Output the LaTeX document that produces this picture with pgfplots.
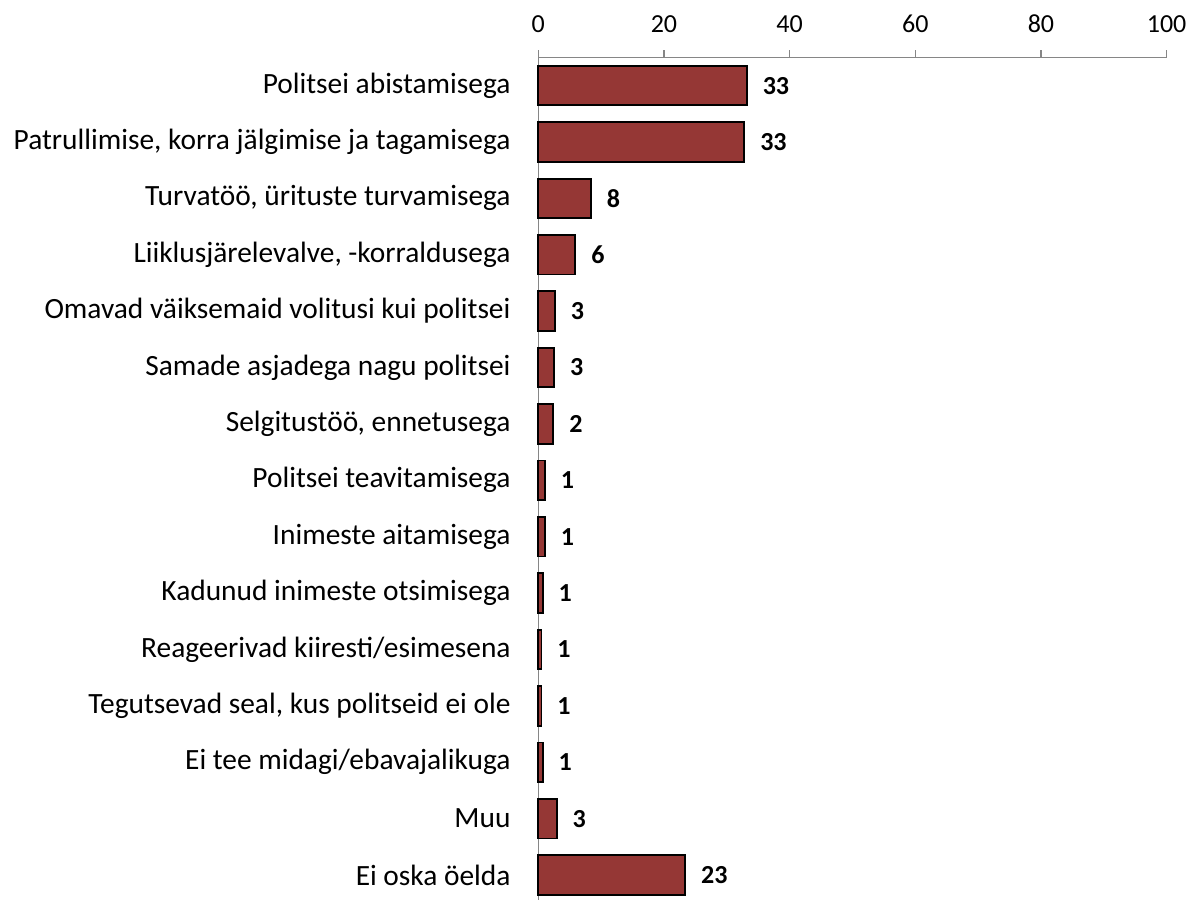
\documentclass[border=0pt]{standalone}
\usepackage{fontspec}
\setmainfont{Carlito}
\usepackage{pgfplots}
\pgfplotsset{compat=1.18}
\usetikzlibrary{calc}
\definecolor{barred}{RGB}{149,55,53}
\definecolor{axgray}{RGB}{134,134,134}
\begin{document}
\begin{tikzpicture}[font=\fontsize{13}{15}\selectfont]
\begin{axis}[
  name=ax,
  scale only axis, width=314.2pt, height=423pt,
  xmin=0, xmax=100, ymin=-0.5, ymax=14.5,
  xtick={0,20,...,100},
  ytick={0,...,14},
  yticklabels={Ei oska öelda, Muu, Ei tee midagi/ebavajalikuga, {Tegutsevad seal, kus politseid ei ole}, Reageerivad kiiresti/esimesena, Kadunud inimeste otsimisega, Inimeste aitamisega, Politsei teavitamisega, {Selgitustöö, ennetusega}, Samade asjadega nagu politsei, Omavad väiksemaid volitusi kui politsei, {Liiklusjärelevalve, -korraldusega}, {Turvatöö, ürituste turvamisega\ }, {Patrullimise, korra jälgimise ja tagamisega}, Politsei abistamisega},
  axis x line*=top, axis y line*=left,
  axis line style={axgray, line width=0.75pt},
  xtick style={axgray, line width=0.75pt},
  ytick style={draw=none},
  tick align=outside,
  major tick length=3.5pt,
  /pgf/number format/assume math mode=true,
  xticklabel style={inner sep=0pt, anchor=south, yshift=8.5pt},
  yticklabel style={inner sep=0pt, anchor=east, xshift=-10.2pt, font=\fontsize{14.7}{17}\selectfont},
  xbar, bar width=19.75pt,
  clip=false,
]
\addplot[fill=barred, draw=black, line width=0.9pt,
  nodes near coords, point meta=explicit symbolic,
  nodes near coords style={font=\fontsize{13}{15}\selectfont\bfseries, anchor=west, inner sep=0pt, xshift=7.5pt}]
coordinates {
  (33.2,14) [33]
  (32.8,13) [33]
  (8.4,12) [8]
  (5.9,11) [6]
  (2.65,10) [3]
  (2.55,9) [3]
  (2.4,8) [2]
  (1.07,7) [1]
  (1.07,6) [1]
  (0.7,5) [1]
  (0.5,4) [1]
  (0.5,3) [1]
  (0.7,2) [1]
  (2.95,1) [3]
  (23.4,0) [23]
};
\end{axis}
\pgfresetboundingbox
\path ($(ax.south west)+(-269.2pt,1.65pt)$) rectangle ($(ax.north east)+(14.2pt,28.7pt)$);
\end{tikzpicture}
\end{document}
